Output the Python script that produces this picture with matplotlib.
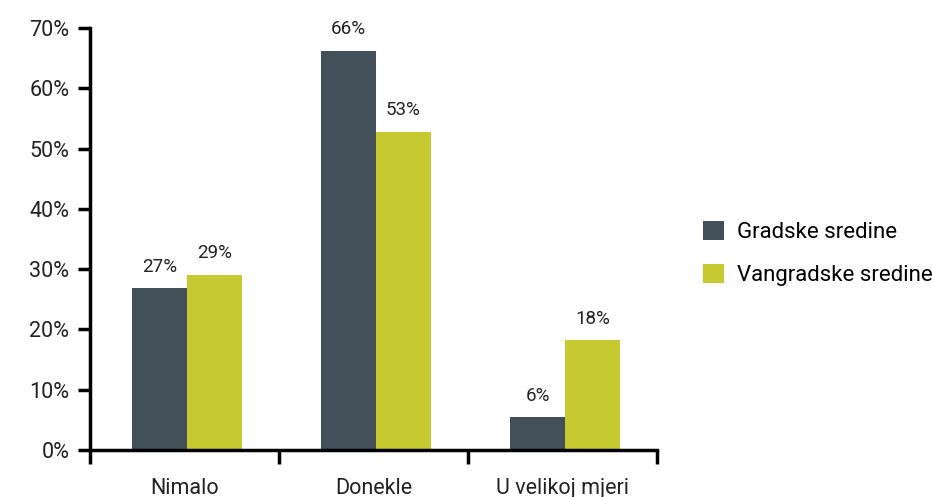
import matplotlib.pyplot as plt
import numpy as np

plt.rcParams['font.family'] = ['Roboto', 'DejaVu Sans']

categories = ["Nimalo", "Donekle", "U velikoj mjeri"]
gradske = [26.8, 66.2, 5.4]
vangradske = [29.1, 52.8, 18.2]
gradske_labels = ["27%", "66%", "6%"]
vangradske_labels = ["29%", "53%", "18%"]

dark = "#434f59"
green = "#c6c930"

fig = plt.figure(figsize=(9.32, 4.97), dpi=100)
ax = fig.add_axes([0.0966, 0.0946, 0.6084, 0.8491])

x = np.arange(len(categories))
w = 0.29
b1 = ax.bar(x - w / 2 + 0.013, gradske, w, color=dark, label="Gradske sredine")
b2 = ax.bar(x + w / 2 + 0.013, vangradske, w, color=green, label="Vangradske sredine")

# value labels above the bars
for bars, labels in [(b1, gradske_labels), (b2, vangradske_labels)]:
    for rect, lab in zip(bars, labels):
        ax.annotate(lab, (rect.get_x() + rect.get_width() / 2, rect.get_height()),
                    xytext=(0, 9), textcoords="offset points",
                    ha="center", va="bottom", fontsize=13.5, color="#222222")

ax.set_ylim(0, 70)
ax.set_xlim(-0.5, 2.5)
ax.set_yticks(range(0, 71, 10))
ax.set_yticklabels([f"{v}%" for v in range(0, 71, 10)])
ax.set_xticks([-0.5, 0.5, 1.5, 2.5])
ax.set_xticklabels([])
ax.set_xticks(x, minor=True)
ax.set_xticklabels(categories, minor=True)
ax.tick_params(axis="x", which="minor", length=0, pad=20, labelsize=15.5, labelcolor="#222222")
ax.tick_params(axis="x", which="major", length=10, width=2.5, direction="out")
ax.tick_params(axis="y", length=9, width=2.5, labelsize=15.5, pad=6, labelcolor="#222222")

for s in ["top", "right"]:
    ax.spines[s].set_visible(False)
for s in ["left", "bottom"]:
    ax.spines[s].set_linewidth(2.5)

fig.legend(loc="center left", bbox_to_anchor=(0.745, 0.49), frameon=False,
           fontsize=16, handlelength=0.95, handleheight=0.95, labelspacing=0.95,
           handletextpad=0.55, borderaxespad=0)

fig.savefig("out.png", dpi=100)
